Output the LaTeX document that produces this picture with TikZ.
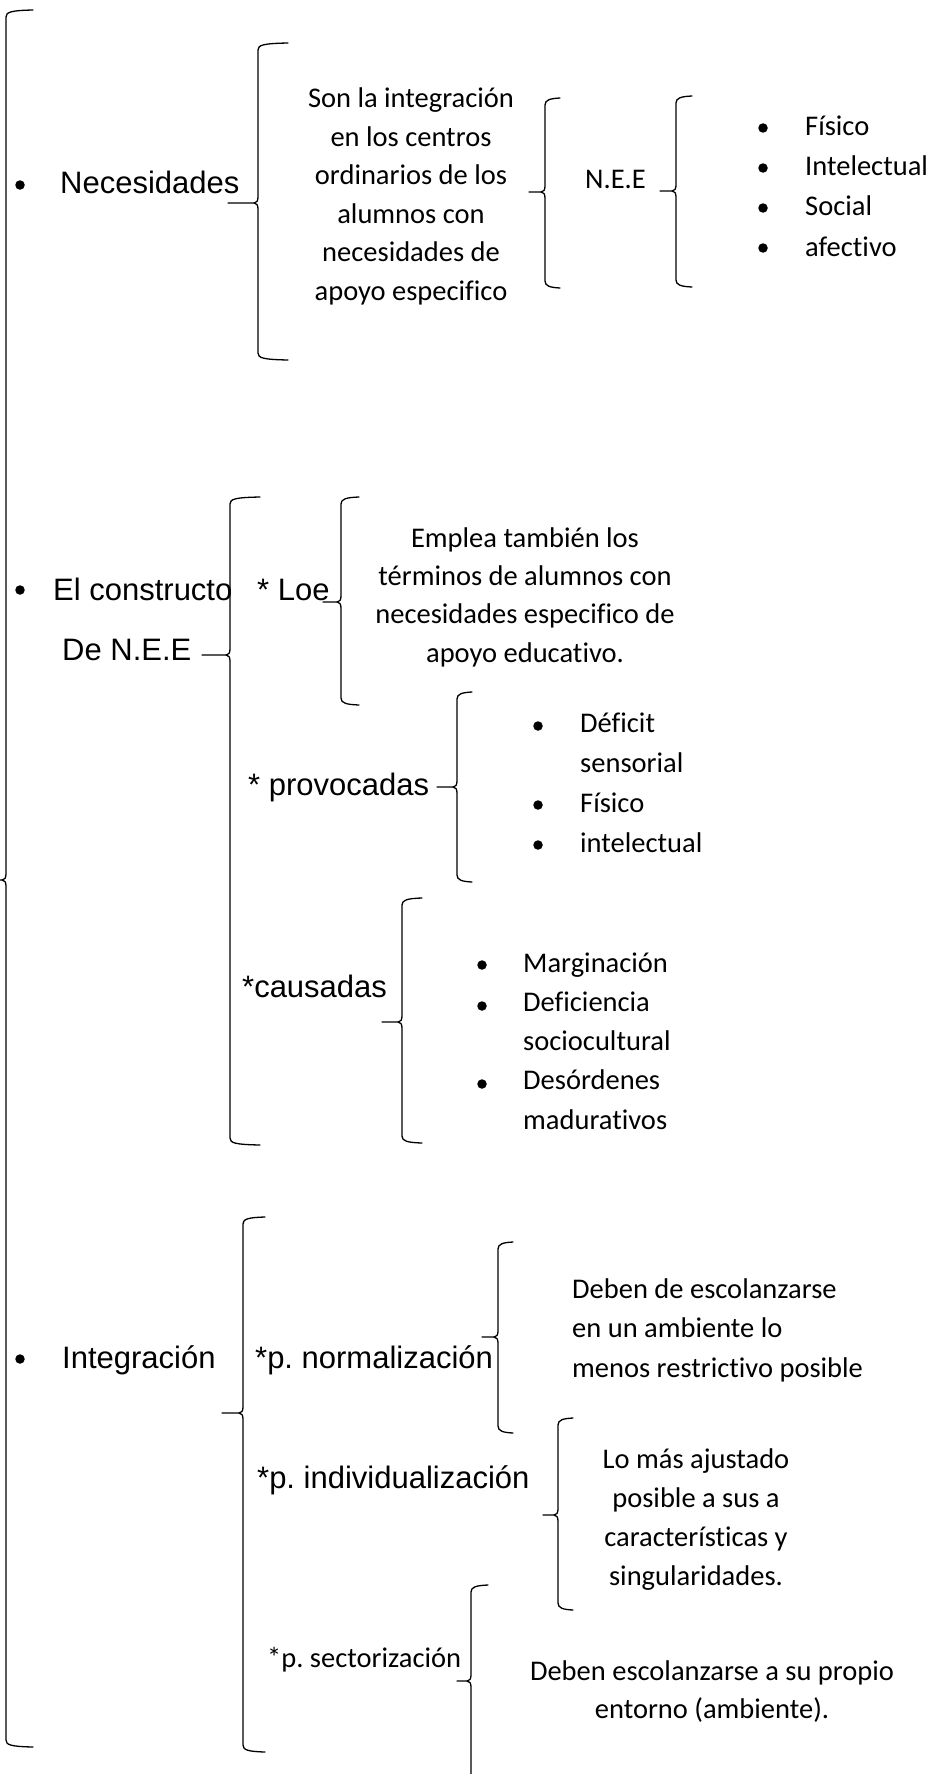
\documentclass[tikz,border=0pt]{standalone}
\usepackage{fontspec}
\setmainfont{Carlito}[Ligatures={NoCommon}]
\newfontfamily\arialf{Liberation Sans}
% Word-style curly brace: #1 x of vertical, #2 top y, #3 bottom y, #4 tip y, #5 tip x, #6 x of hook ends
\newcommand{\wbrace}[6]{%
  \draw[wbr] (#6,#2) .. controls (#1+5,#2+0.5) and (#1,#2+2) .. (#1,#2+7)
    -- (#1,#4-6) .. controls (#1,#4-2) and (#1-1.5,#4) .. (#1-4,#4) -- (#5,#4);
  \draw[wbr] (#1-4,#4) .. controls (#1-1.5,#4) and (#1,#4+2) .. (#1,#4+6)
    -- (#1,#3-7) .. controls (#1,#3-2) and (#1+5,#3-0.5) .. (#6,#3);}
\tikzset{
  wbr/.style={line width=1.3pt, line cap=round, line join=round},
  ar/.style={font=\arialf\fontsize{31}{37}\selectfont, inner sep=0pt, anchor=base west},
  cal/.style={font=\fontsize{28.5}{38.5}\selectfont, inner sep=0pt},
  dot/.style={circle, fill, inner sep=0pt, minimum size=9.5pt},
}
\frenchspacing
\begin{document}
\frenchspacing
\begin{tikzpicture}[x=1pt,y=-1pt]
\useasboundingbox (0,0) rectangle (939,1774);
\fill[white] (0,0) rectangle (939,1774);

% (multi-line nodes are placed by the baseline of their last line)
% ---------- Necesidades ----------
\node[dot] (d1) at (20,185) {};
\node[ar] (nec) at (60,193) {Necesidades};
\node[cal, align=center, anchor=base] (son) at (411,300)
  {Son la integración\\en los centros\\ordinarios de los\\alumnos con\\necesidades de\\apoyo especifico};
\node[cal, anchor=base west] (nee) at (585,188) {N.E.E};
\node[dot] (d2) at (763,128) {};
\node[dot] (d3) at (763,168) {};
\node[dot] (d4) at (763,208) {};
\node[dot] (d5) at (763,248) {};
\node[cal, align=left, anchor=base west, font=\fontsize{28.5}{40.3}\selectfont] (l1) at (805,256)
  {Físico\\Intelectual\\Social\\afectivo};

% ---------- El constructo ----------
\node[dot] (d6) at (20,590) {};
\node[ar] (cons1) at (53,600) {El constructo};
\node[ar] (cons2) at (62,660) {De N.E.E};
\node[ar] (loe) at (257,600) {* Loe};
\node[cal, align=center, anchor=base, font=\fontsize{28.5}{38.3}\selectfont] (emp) at (525,662)
  {Emplea también los\\términos de alumnos con\\necesidades especifico de\\apoyo educativo.};
\node[ar] (prov) at (248,795) {* provocadas};
\node[dot] (d7) at (538,726) {};
\node[dot] (d8) at (538,805) {};
\node[dot] (d9) at (538,845) {};
\node[cal, align=left, anchor=base west, font=\fontsize{28.5}{39.7}\selectfont] (l2) at (580,852)
  {Déficit\\sensorial\\Físico\\intelectual};
\node[ar] (caus) at (242,997) {*causadas};
\node[dot] (d10) at (482,965) {};
\node[dot] (d11) at (482,1006) {};
\node[dot] (d12) at (482,1084) {};
\node[cal, align=left, anchor=base west, font=\fontsize{28.5}{39.25}\selectfont] (l3) at (523,1129)
  {Marginación\\Deficiencia\\sociocultural\\Desórdenes\\madurativos};

% ---------- Integración ----------
\node[dot] (d13) at (20,1359) {};
\node[ar] (integ) at (62,1368) {Integración};
\node[ar] (pn) at (255,1368) {*p. normalización};
\node[ar] (pi) at (257,1488) {*p. individualización};
\node[cal, anchor=base west] (ps) at (267,1667) {*p. sectorización};
\node[cal, align=left, anchor=base west, font=\fontsize{28.5}{39.5}\selectfont] (deb1) at (572,1377)
  {Deben de escolanzarse\\en un ambiente lo\\menos restrictivo posible};
\node[cal, align=center, anchor=base, font=\fontsize{28.5}{39}\selectfont] (lomas) at (696,1585)
  {Lo más ajustado\\posible a sus a\\características y\\singularidades.};
\node[cal, align=center, anchor=base, font=\fontsize{28.5}{38}\selectfont] (deb2) at (712,1718)
  {Deben escolanzarse a su propio\\entorno (ambiente).};

% ---------- braces ----------
\wbrace{6}{10}{1747}{880}{0}{33}
\wbrace{258}{43}{360}{203}{228}{288}
\wbrace{545}{98}{288}{192}{529}{560}
\wbrace{676}{96}{287}{191}{660}{692}
\wbrace{230}{497}{1145}{655}{202}{260}
\wbrace{341}{497}{705}{602}{323}{359}
\wbrace{457}{692}{882}{787}{437}{472}
\wbrace{402}{898}{1143}{1022}{382}{422}
\wbrace{243}{1217}{1752}{1413}{222}{265}
\wbrace{498}{1242}{1433}{1337}{482}{513}
\wbrace{558}{1418}{1610}{1515}{543}{573}
\wbrace{471}{1585}{1800}{1681}{457}{488}
\end{tikzpicture}
\end{document}
